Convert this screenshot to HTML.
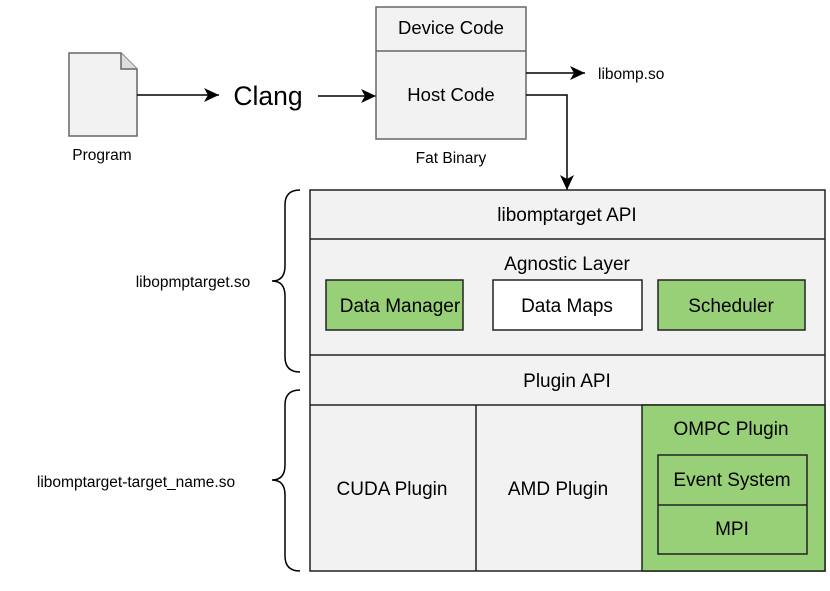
<!DOCTYPE html>
<html><head><style>
body{margin:0;background:#fff;}
svg text{font-family:"Liberation Sans",Arial,sans-serif;fill:#000;}
</style></head><body>
<svg width="830" height="586" viewBox="0 0 830 586" xmlns="http://www.w3.org/2000/svg">
<defs><marker id="ah" markerWidth="16" markerHeight="14" refX="15" refY="7" orient="auto" markerUnits="userSpaceOnUse"><path d="M0,0 L15,7 L0,14 L4,7 z" fill="#000"/></marker></defs>
<path d="M69,53 H121 L137,69 V136 H69 Z" fill="#f2f2f2" stroke="#666" stroke-width="1.5"/>
<path d="M121,53 V69 H137" fill="#ddd" stroke="#666" stroke-width="1.5"/>
<text x="102" y="160" font-size="15.5" text-anchor="middle">Program</text>
<line x1="137" y1="95" x2="219" y2="95" stroke="#000" stroke-width="1.5" marker-end="url(#ah)"/>
<text x="268" y="105" font-size="26.5" text-anchor="middle">Clang</text>
<line x1="318" y1="96" x2="376" y2="96" stroke="#000" stroke-width="1.5" marker-end="url(#ah)"/>
<rect x="376" y="7" width="150" height="132" fill="#f2f2f2" stroke="#666" stroke-width="1.5"/>
<line x1="376" y1="51" x2="526" y2="51" stroke="#666" stroke-width="1.5"/>
<text x="451" y="34" font-size="18.5" text-anchor="middle" fill="#333">Device Code</text>
<text x="451" y="101" font-size="18.5" text-anchor="middle" fill="#333">Host Code</text>
<text x="451" y="163" font-size="15.5" text-anchor="middle">Fat Binary</text>
<line x1="526" y1="73" x2="585" y2="73" stroke="#000" stroke-width="1.5" marker-end="url(#ah)"/>
<text x="598" y="79" font-size="15.5">libomp.so</text>
<polyline points="526,95 567,95 567,190" fill="none" stroke="#000" stroke-width="1.5" marker-end="url(#ah)"/>
<rect x="310" y="190" width="515" height="381" fill="#f2f2f2" stroke="#222" stroke-width="1.5"/>
<line x1="310" y1="239" x2="825" y2="239" stroke="#222" stroke-width="1.5"/>
<line x1="310" y1="355" x2="825" y2="355" stroke="#222" stroke-width="1.5"/>
<line x1="310" y1="405" x2="825" y2="405" stroke="#222" stroke-width="1.5"/>
<line x1="476" y1="405" x2="476" y2="571" stroke="#222" stroke-width="1.5"/>
<rect x="642" y="405" width="183" height="166" fill="#97d077" stroke="#222" stroke-width="1.5"/>
<text x="567" y="221" font-size="19" text-anchor="middle">libomptarget API</text>
<text x="567" y="270" font-size="19" text-anchor="middle">Agnostic Layer</text>
<rect x="326" y="280" width="137" height="50" fill="#97d077" stroke="#222" stroke-width="1.5"/>
<text x="400" y="312" font-size="19" text-anchor="middle">Data Manager</text>
<rect x="493" y="280" width="149" height="50" fill="#fff" stroke="#222" stroke-width="1.5"/>
<text x="567" y="312" font-size="19" text-anchor="middle">Data Maps</text>
<rect x="658" y="280" width="147" height="50" fill="#97d077" stroke="#222" stroke-width="1.5"/>
<text x="731" y="312" font-size="19" text-anchor="middle">Scheduler</text>
<text x="567" y="387" font-size="19" text-anchor="middle">Plugin API</text>
<text x="392" y="495" font-size="19" text-anchor="middle">CUDA Plugin</text>
<text x="558" y="495" font-size="19" text-anchor="middle">AMD Plugin</text>
<text x="731" y="435" font-size="19" text-anchor="middle">OMPC Plugin</text>
<rect x="658" y="455" width="149" height="99" fill="#97d077" stroke="#222" stroke-width="1.5"/>
<line x1="658" y1="505" x2="807" y2="505" stroke="#222" stroke-width="1.5"/>
<text x="732" y="486" font-size="19" text-anchor="middle">Event System</text>
<text x="732" y="535" font-size="19" text-anchor="middle">MPI</text>
<path d="M300,190 Q285,190 285,205 V266 Q285,281 272,281 Q285,281 285,296 V357 Q285,372 300,372" fill="none" stroke="#000" stroke-width="1.5"/>
<path d="M300,390 Q285,390 285,405 V465 Q285,480 272,480 Q285,480 285,495 V556 Q285,571 300,571" fill="none" stroke="#000" stroke-width="1.5"/>
<text x="193" y="287" font-size="15.5" text-anchor="middle">libopmptarget.so</text>
<text x="136" y="487" font-size="15.5" text-anchor="middle">libomptarget-target_name.so</text>
</svg>
</body></html>
